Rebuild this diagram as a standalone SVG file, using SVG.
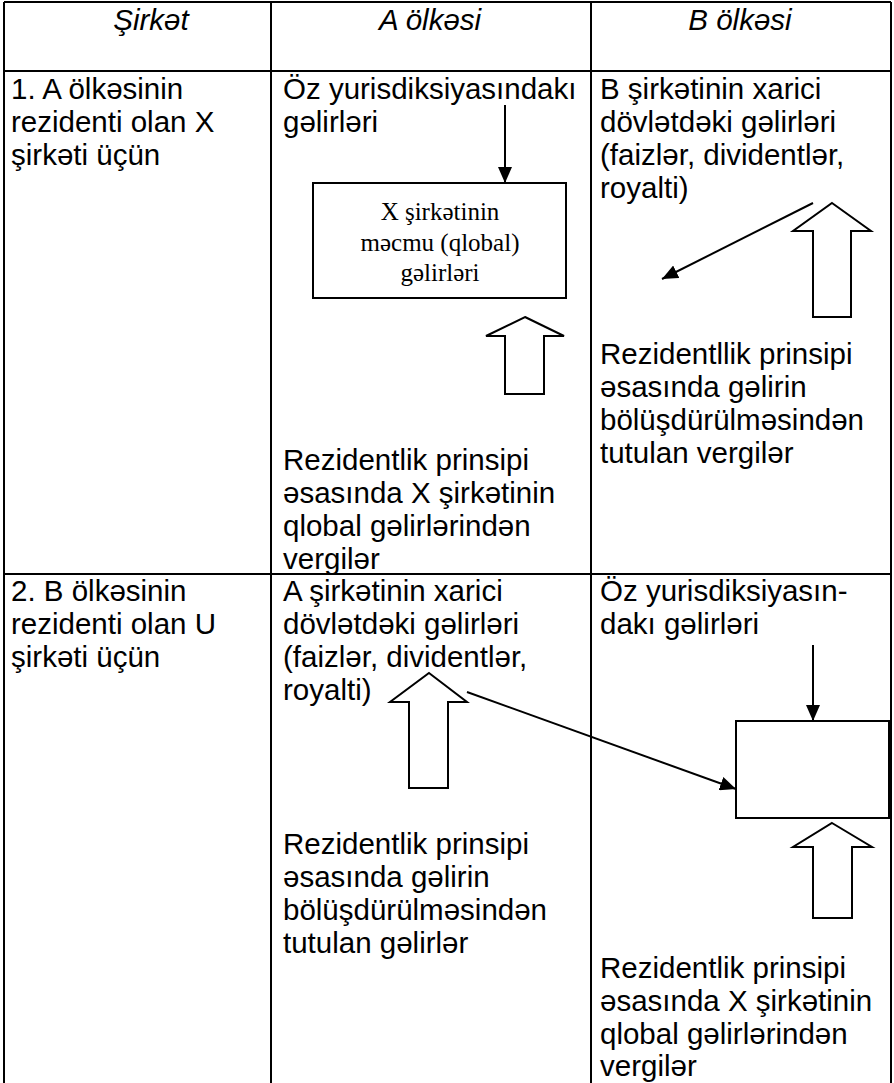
<svg xmlns="http://www.w3.org/2000/svg" width="894" height="1083" viewBox="0 0 894 1083">
<defs>
<style>
.t{font-family:"Liberation Sans",Arial,sans-serif;font-size:29.5px;fill:#000}
.h{font-family:"Liberation Sans",Arial,sans-serif;font-size:29.5px;font-style:italic;fill:#000;text-anchor:middle}
.bx{font-family:"Liberation Serif","Times New Roman",serif;font-size:25px;fill:#000;text-anchor:middle}
.grid{stroke:#000;stroke-width:2;fill:none}
.blk{fill:#fff;stroke:#000;stroke-width:2;stroke-linejoin:miter}
.ln{stroke:#000;stroke-width:2;fill:none}
</style>
<marker id="ah" viewBox="0 0 16 14" refX="16" refY="7" markerWidth="16" markerHeight="14" markerUnits="userSpaceOnUse" orient="auto">
<path d="M0,0 L16,7 L0,14 Z" fill="#000"/>
</marker>
</defs>
<rect width="894" height="1083" fill="#fff"/>
<g id="table" class="grid">
<line x1="4" y1="2" x2="891" y2="2"/>
<line x1="4" y1="71" x2="891" y2="71"/>
<line x1="4" y1="574" x2="891" y2="574"/>
<line x1="4" y1="2" x2="4" y2="1083"/>
<line x1="271" y1="2" x2="271" y2="1083"/>
<line x1="591" y1="2" x2="591" y2="1083"/>
<line x1="891" y1="2" x2="891" y2="1083"/>
</g>
<g id="headers">
<text class="h" x="151" y="30">Şirkət</text>
<text class="h" x="430" y="30">A ölkəsi</text>
<text class="h" x="740" y="30">B ölkəsi</text>
</g>
<g id="row1-company">
<text class="t" x="11" y="99">1. A ölkəsinin</text>
<text class="t" x="11" y="132">rezidenti olan X</text>
<text class="t" x="11" y="165">şirkəti üçün</text>
</g>
<g id="row1-a-top">
<text class="t" x="283" y="99">Öz yurisdiksiyasındakı</text>
<text class="t" x="283" y="132">gəlirləri</text>
</g>
<g id="row1-a-box">
<rect x="313" y="183" width="253" height="115" fill="#fff" stroke="#000" stroke-width="2"/>
<text class="bx" x="440" y="220">X şirkətinin</text>
<text class="bx" x="440" y="251">məcmu (qlobal)</text>
<text class="bx" x="440" y="281">gəlirləri</text>
</g>
<g id="row1-a-uparrow">
<polygon class="blk" points="525,317 564,336 544,336 544,394 505,394 505,336 486,336"/>
</g>
<g id="row1-a-bottom">
<text class="t" x="283" y="470">Rezidentlik prinsipi</text>
<text class="t" x="283" y="503">əsasında X şirkətinin</text>
<text class="t" x="283" y="536">qlobal gəlirlərindən</text>
<text class="t" x="283" y="569">vergilər</text>
</g>
<g id="row1-b-top">
<text class="t" x="600" y="99">B şirkətinin xarici</text>
<text class="t" x="600" y="132">dövlətdəki gəlirləri</text>
<text class="t" x="600" y="165">(faizlər, dividentlər,</text>
<text class="t" x="600" y="198">royalti)</text>
</g>
<g id="row1-b-uparrow">
<polygon class="blk" points="832,203 871,231 851,231 851,317 813,317 813,231 793,231"/>
</g>
<g id="row1-b-bottom">
<text class="t" x="600" y="364">Rezidentllik prinsipi</text>
<text class="t" x="600" y="397">əsasında gəlirin</text>
<text class="t" x="600" y="430">bölüşdürülməsindən</text>
<text class="t" x="600" y="463">tutulan vergilər</text>
</g>
<g id="row2-company">
<text class="t" x="11" y="601">2. B ölkəsinin</text>
<text class="t" x="11" y="634">rezidenti olan U</text>
<text class="t" x="11" y="667">şirkəti üçün</text>
</g>
<g id="row2-a-top">
<text class="t" x="283" y="601">A şirkətinin xarici</text>
<text class="t" x="283" y="634">dövlətdəki gəlirləri</text>
<text class="t" x="283" y="667">(faizlər, dividentlər,</text>
<text class="t" x="283" y="700">royalti)</text>
</g>
<g id="row2-a-uparrow">
<polygon class="blk" points="429,673 467,702 448,702 448,788 409,788 409,702 390,702"/>
</g>
<g id="row2-a-bottom">
<text class="t" x="283" y="854">Rezidentlik prinsipi</text>
<text class="t" x="283" y="887">əsasında gəlirin</text>
<text class="t" x="283" y="920">bölüşdürülməsindən</text>
<text class="t" x="283" y="953">tutulan gəlirlər</text>
</g>
<g id="row2-b-top">
<text class="t" x="600" y="601">Öz yurisdiksiyasın-</text>
<text class="t" x="600" y="634">dakı gəlirləri</text>
</g>
<g id="row2-b-box">
<rect x="736" y="721" width="153" height="97" fill="#fff" stroke="#000" stroke-width="2"/>
</g>
<g id="row2-b-uparrow">
<polygon class="blk" points="832,823 872,847 852,847 852,918 813,918 813,847 793,847"/>
</g>
<g id="row2-b-bottom">
<text class="t" x="600" y="978">Rezidentlik prinsipi</text>
<text class="t" x="600" y="1011">əsasında X şirkətinin</text>
<text class="t" x="600" y="1044">qlobal gəlirlərindən</text>
<text class="t" x="600" y="1076">vergilər</text>
</g>
<g id="connectors">
<line class="ln" x1="505" y1="105" x2="505" y2="183" marker-end="url(#ah)"/>
<line class="ln" x1="813" y1="203" x2="662" y2="279" marker-end="url(#ah)"/>
<line class="ln" x1="813" y1="645" x2="813" y2="721" marker-end="url(#ah)"/>
<line class="ln" x1="467" y1="692" x2="736" y2="789" marker-end="url(#ah)"/>
</g>
</svg>
